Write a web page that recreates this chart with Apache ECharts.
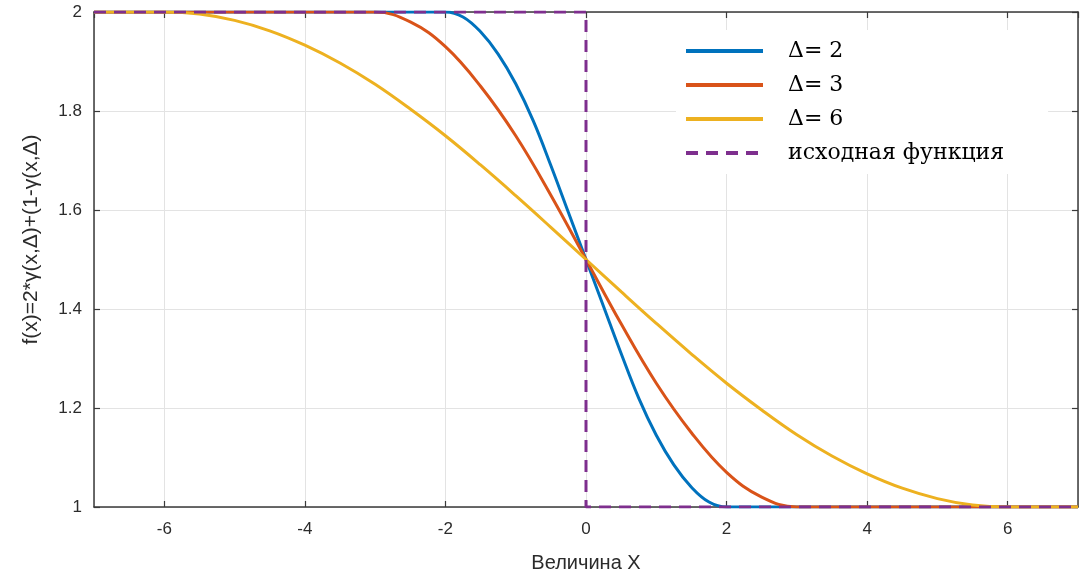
<!DOCTYPE html>
<html>
<head>
<meta charset="utf-8">
<script src="https://cdn.jsdelivr.net/npm/echarts@6/dist/echarts.min.js"></script>
<style>
  html, body { margin: 0; padding: 0; background: #fff; }
  #chart { width: 1088px; height: 578px; }
</style>
</head>
<body>
<div id="chart"></div>
<script>
// values
const blueX = [-7, -2, -1.75, -1.5, -1.25, -1, -0.75, -0.5, -0.25, 0, 0.25, 0.5, 0.75, 1, 1.25, 1.5, 1.75, 2, 7];
const blueY = [2, 2, 1.99, 1.96, 1.915, 1.855, 1.78, 1.69, 1.595, 1.5, 1.405, 1.31, 1.22, 1.145, 1.085, 1.04, 1.01, 1, 1];

const orangeX = [-7, -3, -2.5, -2, -1.5, -1, -0.5, 0, 0.5, 1, 1.5, 2, 2.5, 3, 7];
const orangeY = [2, 2, 1.98, 1.93, 1.85, 1.75, 1.63, 1.5, 1.37, 1.25, 1.15, 1.07, 1.02, 1, 1];

const yellowX = [-7, -6, -5.5, -5, -4.5, -4, -3.5, -3, -2.5, -2, -1.5, -1, -0.5, 0,
  0.5, 1, 1.5, 2, 2.5, 3, 3.5, 4, 4.5, 5, 5.5, 6, 7];
const yellowY = [2, 2, 1.996, 1.983, 1.962, 1.933, 1.897, 1.854, 1.804, 1.75, 1.691, 1.629, 1.565, 1.5,
  1.435, 1.371, 1.309, 1.25, 1.196, 1.146, 1.103, 1.067, 1.038, 1.017, 1.004, 1, 1];

const stepX = [-7, 0, 0, 7];
const stepY = [2, 2, 1, 1];

const seriesNames = ['Δ= 2', 'Δ= 3', 'Δ= 6', 'исходная функция'];
const colors = ['#0072BD', '#D95319', '#EDB120', '#7E2F8E'];

const zip = (xs, ys) => xs.map((x, i) => [x, ys[i]]);

const tickFont = { fontFamily: 'Liberation Sans, Arial, sans-serif', fontSize: 17, color: '#2b2b2b' };
const axisLine = { show: true, onZero: false, lineStyle: { color: '#3a3a3a', width: 1.5 } };
const axisTick = { show: true, inside: true, length: 6, lineStyle: { color: '#3a3a3a', width: 1.2 } };
const splitLine = { show: true, lineStyle: { color: '#e3e3e3', width: 1 } };

const chart = echarts.init(document.getElementById('chart'));

const line = (idx, data, extra) => Object.assign({
  name: seriesNames[idx],
  type: 'line',
  data,
  smooth: 0.4,
  symbol: 'none',
  animation: false,
  lineStyle: { color: colors[idx], width: 3 },
  itemStyle: { color: colors[idx] },
}, extra || {});

chart.setOption({
  animation: false,
  backgroundColor: '#fff',
  grid: { left: 94, right: 10, top: 12, bottom: 70 },
  legend: {
    orient: 'vertical',
    left: 676,
    top: 30,
    padding: [10, 44, 10, 8],
    backgroundColor: '#fff',
    itemWidth: 77,
    itemHeight: 20,
    itemGap: 12,
    itemStyle: { opacity: 0 },
    lineStyle: { width: 4 },
    textStyle: { fontFamily: 'DejaVu Serif, serif', fontSize: 22, color: '#000', padding: [0, 0, 0, 20] },
    data: seriesNames,
  },
  xAxis: [
    {
      type: 'value', min: -7, max: 7, splitNumber: 7,
      name: 'Величина X', nameLocation: 'middle', nameGap: 46,
      nameTextStyle: { fontFamily: 'Liberation Sans, Arial, sans-serif', fontSize: 20, color: '#2b2b2b' },
      axisLine, axisTick, splitLine,
      axisLabel: Object.assign({ margin: 14, showMinLabel: false, showMaxLabel: false }, tickFont),
    },
    {
      type: 'value', min: -7, max: 7, splitNumber: 7, position: 'top',
      axisLine, axisTick, splitLine: { show: false }, axisLabel: { show: false },
    },
  ],
  yAxis: [
    {
      type: 'value', min: 1, max: 2, interval: 0.2,
      name: 'f(x)=2*γ(x,Δ)+(1-γ(x,Δ)', nameLocation: 'middle', nameGap: 52,
      nameTextStyle: {
        fontFamily: 'Liberation Sans, Arial, sans-serif', fontSize: 21, color: '#2b2b2b',
        padding: [0, 0, 0, 40],
      },
      axisLine, axisTick, splitLine,
      axisLabel: Object.assign({ margin: 12 }, tickFont),
    },
    {
      type: 'value', min: 1, max: 2, interval: 0.2, position: 'right',
      axisLine, axisTick, splitLine: { show: false }, axisLabel: { show: false },
    },
  ],
  series: [
    line(0, zip(blueX, blueY)),
    line(1, zip(orangeX, orangeY)),
    line(2, zip(yellowX, yellowY)),
    line(3, zip(stepX, stepY), { smooth: false, lineStyle: { color: colors[3], width: 3, type: [12, 8] } }),
  ],
});
</script>
</body>
</html>
